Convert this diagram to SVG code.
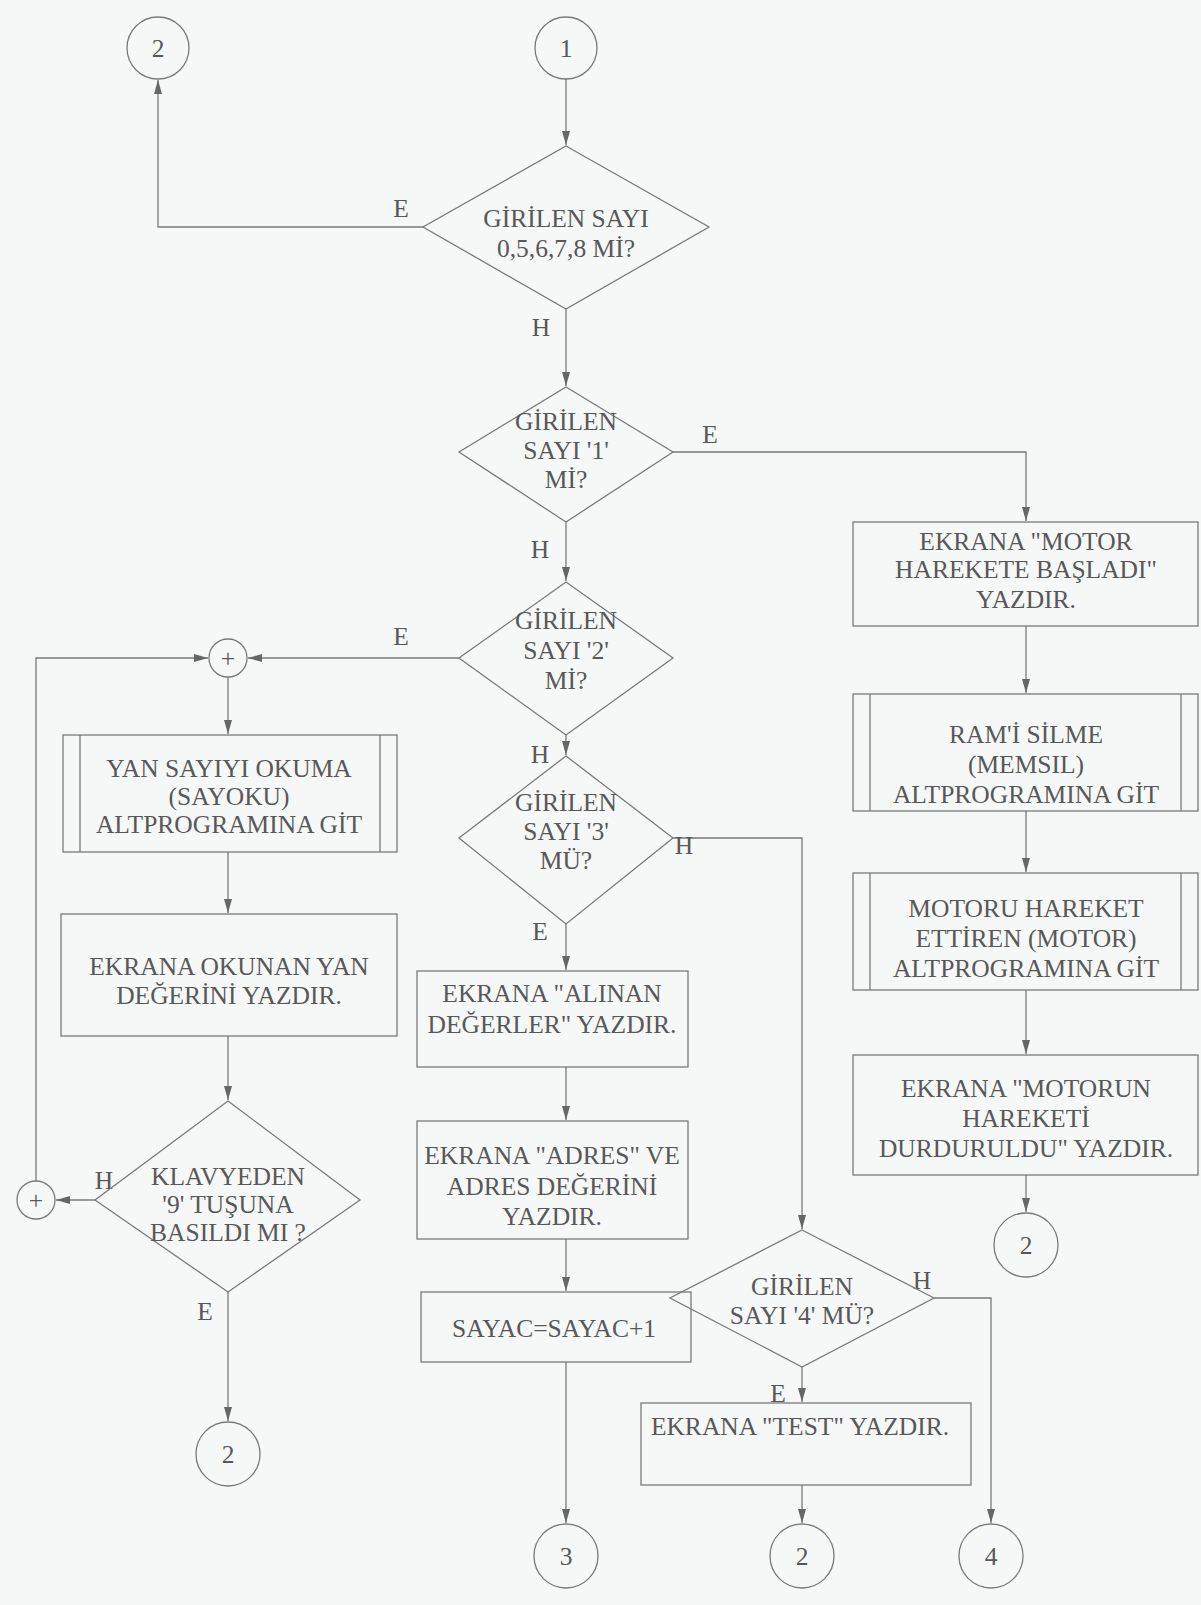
<svg xmlns="http://www.w3.org/2000/svg" width="1201" height="1605" viewBox="0 0 1201 1605">
<defs>
<marker id="arr" markerWidth="14" markerHeight="8" refX="14" refY="4" orient="auto" markerUnits="userSpaceOnUse" viewBox="0 0 14 8">
<path d="M0,0 L14,4 L0,8 z" fill="#666"/>
</marker>
<style>
.n{fill:none;stroke:#7a7a7a;stroke-width:1.3}
.t{font-family:"Liberation Serif","Times New Roman","DejaVu Serif",serif;font-size:25.5px;fill:#585858;text-anchor:middle;dominant-baseline:central}
.c{stroke:#7a7a7a;stroke-width:1.3;fill:none;marker-end:url(#arr)}
.l{stroke:#7a7a7a;stroke-width:1.3;fill:none}
</style>
</defs>
<rect width="1201" height="1605" fill="#f6f7f7"/>

<g id="connectors" font-family="Liberation Serif, serif">
<path class="c" d="M566,79 V145"/>
<path class="c" d="M424,227 H158 V80"/>
<path class="c" d="M566,309 V386"/>
<path class="c" d="M673,452 H1026 V521"/>
<path class="c" d="M566,522 V581"/>
<path class="c" d="M459,658 H248"/>
<path class="c" d="M36,1181 V658 H208"/>
<path class="c" d="M228,677 V734"/>
<path class="c" d="M228,852 V913"/>
<path class="c" d="M228,1036 V1100"/>
<path class="c" d="M95,1200 H56"/>
<path class="c" d="M228,1292 V1421"/>
<path class="c" d="M566,735 V755"/>
<path class="c" d="M673,838 H802 V1229"/>
<path class="c" d="M566,924 V970"/>
<path class="c" d="M566,1067 V1120"/>
<path class="c" d="M566,1239 V1291"/>
<path class="c" d="M566,1362 V1523"/>
<path class="c" d="M934,1298 H991 V1523"/>
<path class="c" d="M802,1367 V1402"/>
<path class="c" d="M802,1485 V1523"/>
<path class="c" d="M1026,626 V693"/>
<path class="c" d="M1026,811 V872"/>
<path class="c" d="M1026,990 V1054"/>
<path class="c" d="M1026,1175 V1212"/>
<text class="t" x="401" y="208">E</text>
<text class="t" x="541" y="327">H</text>
<text class="t" x="710" y="434">E</text>
<text class="t" x="540" y="549">H</text>
<text class="t" x="401" y="636">E</text>
<text class="t" x="540" y="754">H</text>
<text class="t" x="684" y="845">H</text>
<text class="t" x="540" y="931">E</text>
<text class="t" x="104" y="1180">H</text>
<text class="t" x="205" y="1311">E</text>
<text class="t" x="922" y="1280">H</text>
<text class="t" x="778" y="1393">E</text>
</g>

<g id="c2-top"><circle class="n" cx="158" cy="48" r="31"/><text class="t" x="158" y="48">2</text></g>
<g id="c1-top"><circle class="n" cx="566" cy="48" r="31"/><text class="t" x="566" y="48">1</text></g>

<g id="d1"><path class="n" d="M566,146 L709,227 L566,309 L423,227 Z"/>
<text class="t" x="566" y="218">GİRİLEN SAYI</text><text class="t" x="566" y="248">0,5,6,7,8 Mİ?</text></g>

<g id="d2"><path class="n" d="M566,387 L673,452 L566,522 L459,452 Z"/>
<text class="t" x="566" y="421">GİRİLEN</text><text class="t" x="566" y="450">SAYI '1'</text><text class="t" x="566" y="479">Mİ?</text></g>

<g id="d3"><path class="n" d="M566,582 L673,658 L566,735 L459,658 Z"/>
<text class="t" x="566" y="620">GİRİLEN</text><text class="t" x="566" y="650">SAYI '2'</text><text class="t" x="566" y="680">Mİ?</text></g>

<g id="d4"><path class="n" d="M566,756 L673,838 L566,924 L459,838 Z"/>
<text class="t" x="566" y="802">GİRİLEN</text><text class="t" x="566" y="831">SAYI '3'</text><text class="t" x="566" y="860">MÜ?</text></g>

<g id="d5"><path class="n" d="M802,1230 L934,1298 L802,1367 L670,1298 Z"/>
<text class="t" x="802" y="1286">GİRİLEN</text><text class="t" x="802" y="1315">SAYI '4' MÜ?</text></g>

<g id="dk"><path class="n" d="M228,1101 L360,1200 L228,1292 L95,1200 Z"/>
<text class="t" x="228" y="1176">KLAVYEDEN</text><text class="t" x="228" y="1204">'9' TUŞUNA</text><text class="t" x="228" y="1232">BASILDI MI ?</text></g>

<g id="plus-top"><circle class="n" cx="228" cy="658" r="19"/><text class="t" x="228" y="658">+</text></g>
<g id="plus-bottom"><circle class="n" cx="36" cy="1200" r="19"/><text class="t" x="36" y="1200">+</text></g>

<g id="r1"><rect class="n" x="853" y="522" width="345" height="104"/>
<text class="t" x="1026" y="541">EKRANA "MOTOR</text><text class="t" x="1026" y="569">HAREKETE BAŞLADI"</text><text class="t" x="1026" y="599">YAZDIR.</text></g>

<g id="r2"><rect class="n" x="853" y="694" width="345" height="117"/><path class="l" d="M870,694 V811 M1181,694 V811"/>
<text class="t" x="1026" y="734">RAM'İ SİLME</text><text class="t" x="1026" y="764">(MEMSIL)</text><text class="t" x="1026" y="794">ALTPROGRAMINA GİT</text></g>

<g id="r3"><rect class="n" x="853" y="873" width="345" height="117"/><path class="l" d="M870,873 V990 M1181,873 V990"/>
<text class="t" x="1026" y="908">MOTORU HAREKET</text><text class="t" x="1026" y="938">ETTİREN (MOTOR)</text><text class="t" x="1026" y="968">ALTPROGRAMINA GİT</text></g>

<g id="r4"><rect class="n" x="853" y="1055" width="345" height="120"/>
<text class="t" x="1026" y="1088">EKRANA "MOTORUN</text><text class="t" x="1026" y="1118">HAREKETİ</text><text class="t" x="1026" y="1148">DURDURULDU" YAZDIR.</text></g>

<g id="c2-right"><circle class="n" cx="1026" cy="1245" r="32"/><text class="t" x="1026" y="1245">2</text></g>

<g id="l1"><rect class="n" x="63" y="735" width="334" height="117"/><path class="l" d="M80,735 V852 M380,735 V852"/>
<text class="t" x="229" y="768">YAN SAYIYI OKUMA</text><text class="t" x="229" y="796">(SAYOKU)</text><text class="t" x="229" y="824">ALTPROGRAMINA GİT</text></g>

<g id="l2"><rect class="n" x="61" y="914" width="336" height="122"/>
<text class="t" x="229" y="966">EKRANA OKUNAN YAN</text><text class="t" x="229" y="995">DEĞERİNİ YAZDIR.</text></g>

<g id="c2-left"><circle class="n" cx="228" cy="1454" r="32"/><text class="t" x="228" y="1454">2</text></g>

<g id="m1"><rect class="n" x="417" y="971" width="271" height="96"/>
<text class="t" x="552" y="993">EKRANA "ALINAN</text><text class="t" x="552" y="1024">DEĞERLER" YAZDIR.</text></g>

<g id="m2"><rect class="n" x="417" y="1121" width="271" height="118"/>
<text class="t" x="552" y="1155">EKRANA "ADRES" VE</text><text class="t" x="552" y="1186">ADRES DEĞERİNİ</text><text class="t" x="552" y="1216">YAZDIR.</text></g>

<g id="m3"><rect class="n" x="421" y="1292" width="270" height="70"/>
<text class="t" x="554" y="1328">SAYAC=SAYAC+1</text></g>

<g id="c3"><circle class="n" cx="566" cy="1556" r="32"/><text class="t" x="566" y="1556">3</text></g>

<g id="test"><rect class="n" x="641" y="1403" width="330" height="82"/>
<text class="t" x="800" y="1426">EKRANA "TEST" YAZDIR.</text></g>

<g id="c2-bottom"><circle class="n" cx="802" cy="1556" r="32"/><text class="t" x="802" y="1556">2</text></g>
<g id="c4"><circle class="n" cx="991" cy="1556" r="32"/><text class="t" x="991" y="1556">4</text></g>
</svg>
